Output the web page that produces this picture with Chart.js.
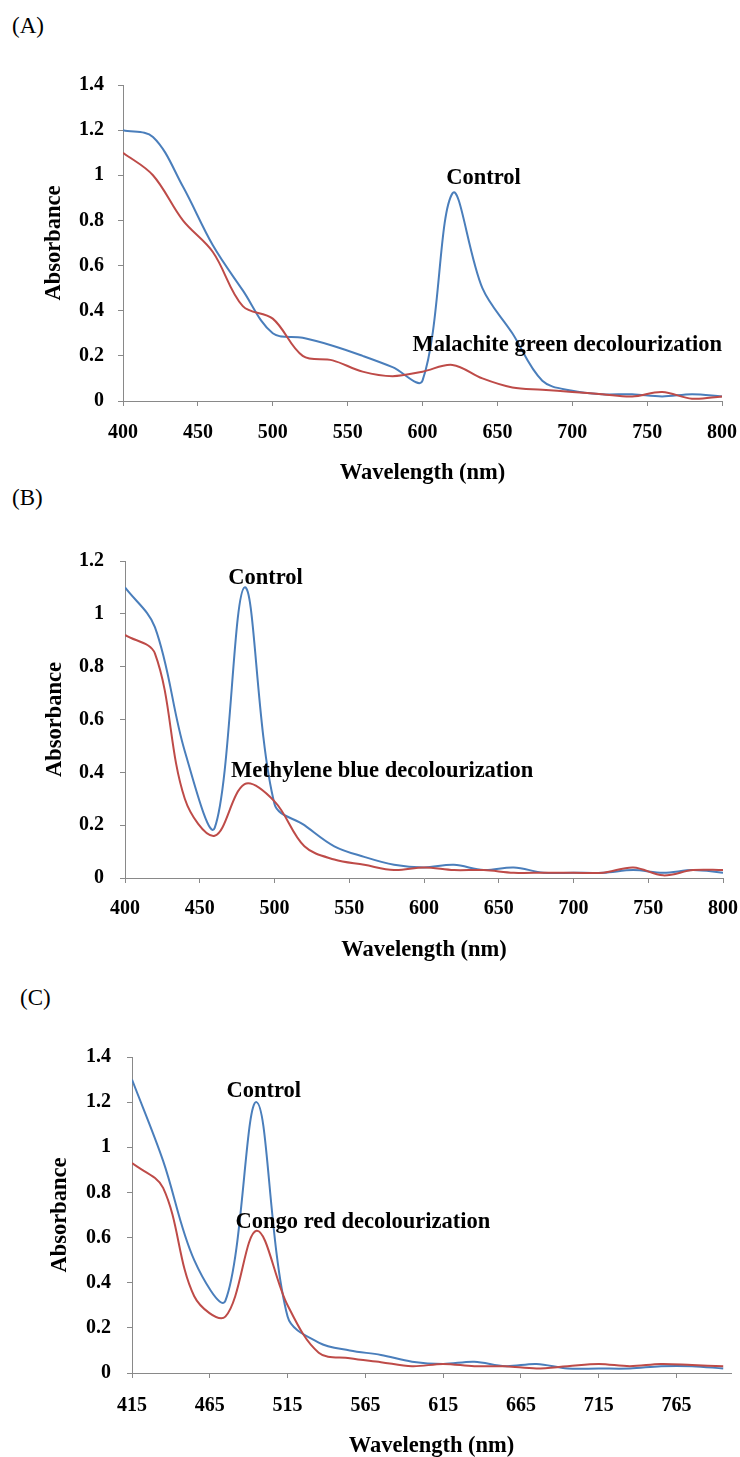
<!DOCTYPE html>
<html>
<head>
<meta charset="utf-8">
<script src="https://cdn.jsdelivr.net/npm/chart.js@4.4.1/dist/chart.umd.min.js"></script>
<style>
  html, body { margin: 0; padding: 0; background: #ffffff; }
  body { width: 740px; height: 1457px; position: relative; overflow: hidden;
         font-family: "Liberation Serif", "Times New Roman", serif; }
  .panel { position: absolute; left: 0; width: 740px; }
  .plabel { position: absolute; font-family: "Liberation Serif", "Times New Roman", serif;
            font-size: 23px; line-height: 23px; color: #000; white-space: nowrap; }
</style>
</head>
<body>
<div class="plabel" style="left:12px; top:14px;">(A)</div>
<div class="plabel" style="left:12px; top:486px;">(B)</div>
<div class="plabel" style="left:20px; top:986px;">(C)</div>

<div class="panel" style="top:0px; height:490px;"><canvas id="chartA"></canvas></div>
<div class="panel" style="top:490px; height:485px;"><canvas id="chartB"></canvas></div>
<div class="panel" style="top:975px; height:482px;"><canvas id="chartC"></canvas></div>

<script>
// ---------------- DATA ----------------
// (A) Malachite green
const wavelengthA = [400,420,440,460,480,500,520,540,560,580,600,620,640,660,680,700,720,740,760,780,800];
const controlA    = [1.20,1.17,0.95,0.69,0.49,0.30,0.28,0.245,0.20,0.15,0.09,0.92,0.50,0.30,0.09,0.045,0.03,0.03,0.02,0.03,0.02];
const treatedA    = [1.10,1.00,0.80,0.66,0.42,0.365,0.20,0.18,0.13,0.11,0.13,0.16,0.10,0.06,0.05,0.04,0.03,0.02,0.04,0.01,0.02];

// (B) Methylene blue
const wavelengthB = [400,420,440,460,480,500,520,540,560,580,600,620,640,660,680,700,720,740,760,780,800];
const controlB    = [1.10,0.95,0.48,0.19,1.10,0.28,0.20,0.12,0.08,0.05,0.04,0.05,0.03,0.04,0.02,0.02,0.02,0.03,0.02,0.03,0.02];
const treatedB    = [0.92,0.85,0.30,0.16,0.355,0.29,0.12,0.07,0.05,0.03,0.04,0.03,0.03,0.02,0.02,0.02,0.02,0.04,0.01,0.03,0.03];

// (C) Congo red
const wavelengthC = [415,435,455,475,495,515,535,555,575,595,615,635,655,675,695,715,735,755,775,795];
const controlC    = [1.30,0.94,0.50,0.32,1.20,0.25,0.135,0.10,0.08,0.05,0.04,0.05,0.03,0.04,0.02,0.02,0.02,0.03,0.03,0.02];
const treatedC    = [0.93,0.82,0.34,0.25,0.63,0.30,0.09,0.065,0.048,0.03,0.04,0.03,0.03,0.02,0.03,0.04,0.03,0.04,0.035,0.03];

// Tick labels
const xTicksA = [400,450,500,550,600,650,700,750,800];
const xTicksB = [400,450,500,550,600,650,700,750,800];
const xTicksC = [415,465,515,565,615,665,715,765];
const yTicksA = ['0','0.2','0.4','0.6','0.8','1','1.2','1.4'];
const yTicksB = ['0','0.2','0.4','0.6','0.8','1','1.2'];
const yTicksC = ['0','0.2','0.4','0.6','0.8','1','1.2','1.4'];

// Text
const xTitle = 'Wavelength (nm)';
const yTitle = 'Absorbance';
const controlLabel = 'Control';
const treatedLabelA = 'Malachite green decolourization';
const treatedLabelB = 'Methylene blue decolourization';
const treatedLabelC = 'Congo red decolourization';

// ---------------- STYLE ----------------
const BLUE = '#4A7EBB';
const RED  = '#BE4B48';
const AXIS = '#898989';
const FONT = '"Liberation Serif", "Times New Roman", serif';

const annotPlugin = {
  id: 'annot',
  afterDatasetsDraw(chart, args, opts) {
    const ctx = chart.ctx;
    const xs = chart.scales.x, ys = chart.scales.y;
    ctx.save();
    ctx.font = 'bold ' + opts.size + 'px ' + FONT;
    ctx.fillStyle = '#000';
    ctx.textAlign = 'center';
    ctx.textBaseline = 'alphabetic';
    (opts.items || []).forEach(it => {
      ctx.fillText(it.text, xs.getPixelForValue(it.x), ys.getPixelForValue(it.y));
    });
    ctx.restore();
  }
};

function pts(xs, ys) { return xs.map((x, i) => ({ x: x, y: ys[i] })); }

function makePanel(id, g) {
  const ctx = document.getElementById(id);
  return new Chart(ctx, {
    type: 'line',
    data: {
      datasets: [
        { label: g.treatedLabel, data: pts(g.wl, g.treated), borderColor: RED, borderWidth: 2,
          pointRadius: 0, tension: 0.35, fill: false },
        { label: controlLabel, data: pts(g.wl, g.control), borderColor: BLUE, borderWidth: 2,
          pointRadius: 0, tension: 0.35, fill: false }
      ]
    },
    options: {
      responsive: true,
      maintainAspectRatio: false,
      animation: false,
      devicePixelRatio: 1,
      layout: { padding: { top: g.padTop, right: g.padRight, left: 0, bottom: 0 } },
      plugins: {
        legend: { display: false },
        tooltip: { enabled: false },
        annot: { size: 22.5, items: g.annots }
      },
      scales: {
        x: {
          type: 'linear',
          min: g.xMin, max: g.xMax,
          afterBuildTicks: (s) => { s.ticks = g.xTicks.map(v => ({ value: v })); },
          afterFit: (s) => { s.height = g.xHeight; s.paddingLeft = 0; s.paddingRight = 0; },
          border: { display: true, color: AXIS, width: 1 },
          grid: { display: true, drawOnChartArea: false, drawTicks: true, tickLength: 5, color: AXIS, lineWidth: 1 },
          ticks: { color: '#000', padding: g.xTickPad, maxRotation: 0, autoSkip: false,
                   font: { family: FONT, size: 20, weight: 'bold', lineHeight: 1 },
                   callback: (v) => String(v) },
          title: { display: true, text: xTitle, color: '#000',
                   font: { family: FONT, size: 22.5, weight: 'bold', lineHeight: 1 },
                   padding: { top: 0, bottom: g.xTitlePad } }
        },
        y: {
          type: 'linear',
          min: 0, max: g.yMax,
          afterFit: (s) => { s.width = g.yWidth; s.paddingTop = 0; s.paddingBottom = 0; },
          border: { display: true, color: AXIS, width: 1 },
          grid: { display: true, drawOnChartArea: false, drawTicks: true, tickLength: 5, color: AXIS, lineWidth: 1 },
          ticks: { stepSize: 0.2, color: '#000', padding: g.yTickPad,
                   font: { family: FONT, size: 20, weight: 'bold', lineHeight: 1 },
                   callback: (v, i) => g.yTicks[i] },
          title: { display: true, text: yTitle, color: '#000',
                   font: { family: FONT, size: 22.5, weight: 'bold', lineHeight: 1 },
                   padding: { top: g.yTitlePad, bottom: 0 } }
        }
      }
    },
    plugins: [annotPlugin]
  });
}

makePanel('chartA', {
  wl: wavelengthA, control: controlA, treated: treatedA, treatedLabel: treatedLabelA,
  xMin: 400, xMax: 800, yMax: 1.4, xTicks: xTicksA, yTicks: yTicksA,
  padTop: 85, padRight: 18, yWidth: 123, xHeight: 89,
  xTickPad: 17, yTickPad: 14, xTitlePad: 5.25, yTitlePad: 42.75,
  annots: [ { text: controlLabel, x: 640.7, y: 0.96 }, { text: treatedLabelA, x: 696.7, y: 0.222 } ]
});

makePanel('chartB', {
  wl: wavelengthB, control: controlB, treated: treatedB, treatedLabel: treatedLabelB,
  xMin: 400, xMax: 800, yMax: 1.2, xTicks: xTicksB, yTicks: yTicksB,
  padTop: 71, padRight: 17, yWidth: 125, xHeight: 97,
  xTickPad: 15.5, yTickPad: 16, xTitlePad: 13.75, yTitlePad: 43.75,
  annots: [ { text: controlLabel, x: 494, y: 1.113 }, { text: treatedLabelB, x: 572, y: 0.382 } ]
});

makePanel('chartC', {
  wl: wavelengthC, control: controlC, treated: treatedC, treatedLabel: treatedLabelC,
  xMin: 415, xMax: 800, yMax: 1.4, xTicks: xTicksC, yTicks: yTicksC,
  padTop: 82, padRight: 9, yWidth: 132, xHeight: 84,
  xTickPad: 17.5, yTickPad: 16, xTitlePad: 0, yTitlePad: 48.75,
  annots: [ { text: controlLabel, x: 499.7, y: 1.222 }, { text: treatedLabelC, x: 563.4, y: 0.644 } ]
});
</script>
</body>
</html>
